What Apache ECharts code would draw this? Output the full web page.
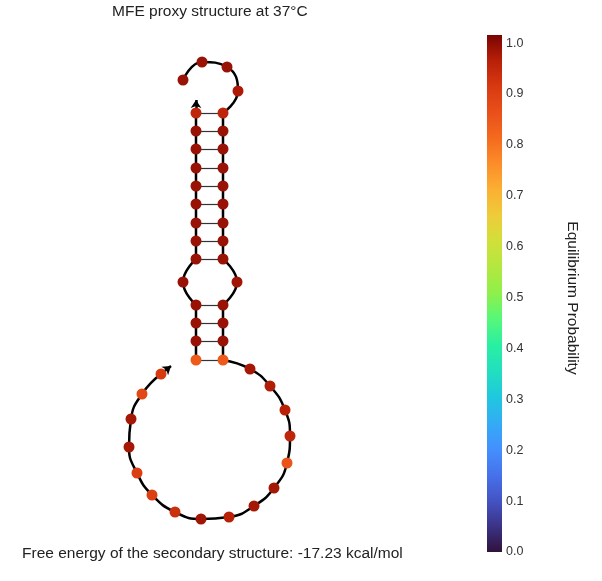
<!DOCTYPE html>
<html>
<head>
<meta charset="utf-8">
<script src="https://cdn.jsdelivr.net/npm/echarts@6/dist/echarts.min.js"></script>
<style>html,body{margin:0;background:#fff}#chart{width:602px;height:581px}</style>
</head>
<body>
<div id="chart"></div>
<script>
// node layout (pixel space) and equilibrium probability per base
var nodeX = [183,202,227,238,223,223,223,223,223,223,223,223,223,237,223,223,223,223,
	250,270,285,290,287,274,254,229,201,175,152,137,129,131,142,161,
	196,196,196,196,183,196,196,196,196,196,196,196,196,196];
var nodeY = [80,62,67,91,113,131,149,168,186,204,223,241,259,282,305,323,341,360,
	369,386,410,436,463,488,506,517,519,512,495,473,447,419,394,374,
	360,341,323,305,282,259,241,223,204,186,168,149,131,113];
var prob = [0.975,0.975,0.975,0.96,0.94,0.975,0.975,0.975,0.975,0.975,0.975,0.975,0.975,0.97,0.975,0.975,0.975,0.83,
	0.965,0.955,0.95,0.94,0.845,0.965,0.965,0.95,0.97,0.92,0.89,0.89,0.965,0.965,0.87,0.90,
	0.83,0.975,0.975,0.975,0.975,0.975,0.975,0.975,0.975,0.975,0.975,0.975,0.975,0.94];
var pairs = [[4,47],[5,46],[6,45],[7,44],[8,43],[9,42],[10,41],[11,40],[12,39],
	[14,37],[15,36],[16,35],[17,34]];
// backbone pieces: [from, to, smooth]
var pieces = [[0,4,true],[4,12,false],[12,14,true],[14,17,false],[17,33,true],
	[34,37,false],[37,39,true],[39,47,false]];
// 3' ends: [node, tipX, tipY]
var ends = [[33,171,366],[47,196,100]];
// colour scale, evenly spaced from 0 to 1
var cbColors = ['#30123b','#3b3387','#4454c4','#4672ec','#4490fe','#33acf5','#1fc8de','#22dfbf',
	'#29efa2','#55f87a','#8ef04a','#b2e840','#d0e03a','#eecc3a','#fbb033','#fc8e2a',
	'#f56a1e','#e9501a','#d83a10','#b82008','#7a0403'];

var chart = echarts.init(document.getElementById('chart'));
var series = [];
pieces.forEach(function(p) {
	var d = [];
	for (var i = p[0]; i <= p[1]; i++) d.push([nodeX[i], nodeY[i]]);
	series.push({type:'line', data:d, smooth:p[2] ? 0.5 : false, symbol:'none', z:2,
		lineStyle:{color:'#000', width:2.5}, silent:true});
});
series.push({type:'lines', coordinateSystem:'cartesian2d', z:2, silent:true,
	symbol:['none','arrow'], symbolSize:8,
	lineStyle:{color:'#000', width:2.5, opacity:1},
	data: ends.map(function(e) { return {coords:[[nodeX[e[0]], nodeY[e[0]]], [e[1], e[2]]]}; })});
series.push({type:'lines', coordinateSystem:'cartesian2d', z:1, silent:true,
	lineStyle:{color:'#333', width:1.2, opacity:1},
	data: pairs.map(function(p) { return {coords:[[nodeX[p[0]], nodeY[p[0]]], [nodeX[p[1]], nodeY[p[1]]]]}; })});
var scatterIdx = series.length;
series.push({type:'scatter', symbolSize:11, z:3, itemStyle:{opacity:1},
	data: nodeX.map(function(x, i) { return [x, nodeY[i], prob[i]]; })});
var grad = cbColors.map(function(c, i) { return {offset:1 - i / (cbColors.length - 1), color:c}; });
series.push({type:'bar', xAxisIndex:1, yAxisIndex:1, data:[1.016], barWidth:'100%', silent:true,
	itemStyle:{color:new echarts.graphic.LinearGradient(0,0,0,1,grad)}});

chart.setOption({
	animation:false,
	grid:[{left:0,right:0,top:0,bottom:0},{left:487,width:15,top:35,height:517}],
	xAxis:[{type:'value',min:0,max:602,show:false},
		{type:'category',gridIndex:1,data:['c'],show:false}],
	yAxis:[{type:'value',min:0,max:581,inverse:true,show:false},
		{type:'value',gridIndex:1,min:0,max:1.016,interval:0.1,position:'right',
			axisLine:{show:false},axisTick:{show:false},splitLine:{show:false},
			axisLabel:{margin:4,color:'#333',fontSize:12.5,fontFamily:'Liberation Sans',showMaxLabel:false,
				formatter:function(v){return v.toFixed(1);}}}],
	visualMap:{type:'continuous',show:false,seriesIndex:scatterIdx,dimension:2,min:0,max:1,
		inRange:{color:cbColors}},
	graphic:[
		{type:'text',left:112,top:4,style:{text:'MFE proxy structure at 37°C',fontSize:15.5,
			fontFamily:'Liberation Sans',fill:'#222'}},
		{type:'text',left:22,top:546,style:{text:'Free energy of the secondary structure: -17.23 kcal/mol',
			fontSize:15.5,fontFamily:'Liberation Sans',fill:'#222'}},
		{type:'text',x:572,y:298,rotation:-Math.PI/2,style:{text:'Equilibrium Probability',fontSize:15.5,
			fontFamily:'Liberation Sans',fill:'#222',align:'center',verticalAlign:'middle'}}
	],
	series:series
});
</script>
</body>
</html>
